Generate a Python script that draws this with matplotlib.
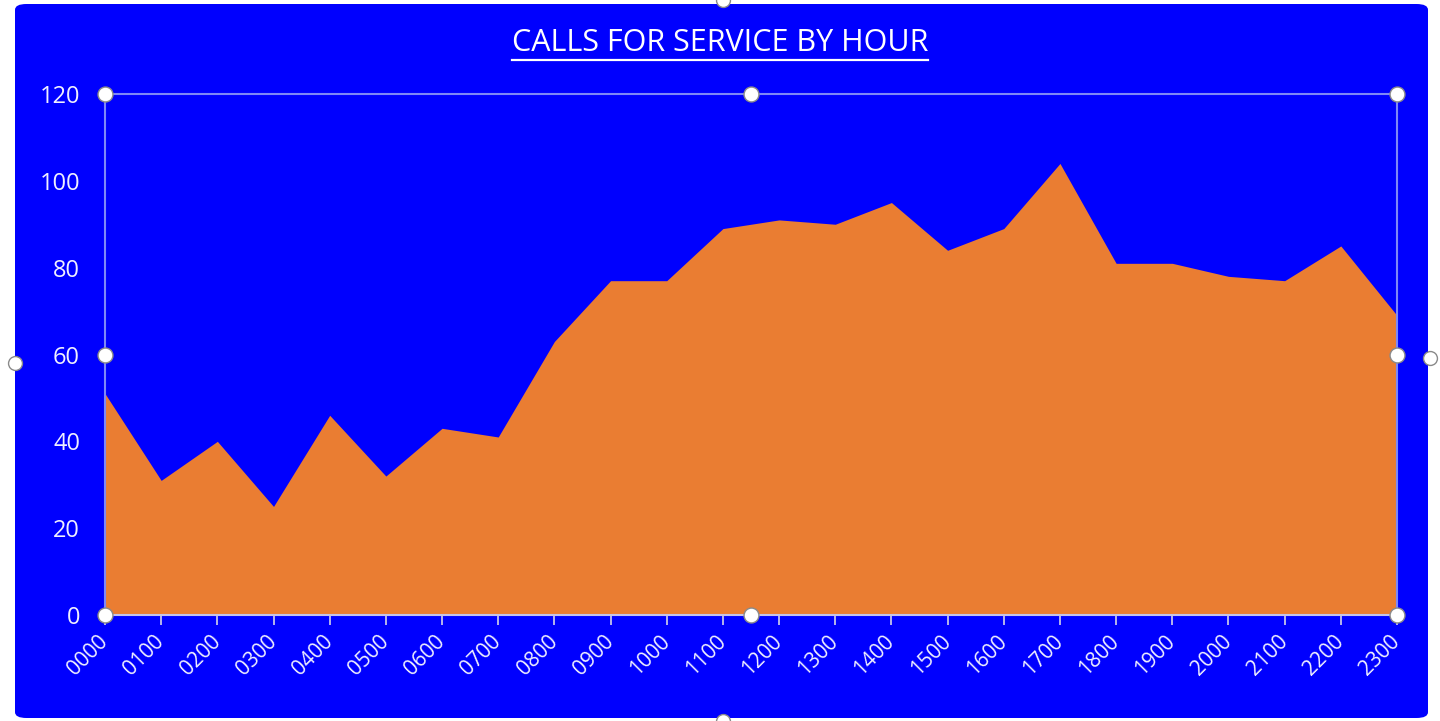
import matplotlib.pyplot as plt
import numpy as np
from matplotlib.patches import FancyBboxPatch

hours = ['0000', '0100', '0200', '0300', '0400', '0500', '0600', '0700',
         '0800', '0900', '1000', '1100', '1200', '1300', '1400', '1500',
         '1600', '1700', '1800', '1900', '2000', '2100', '2200', '2300']
calls = [51, 31, 40, 25, 46, 32, 43, 41, 63, 77, 77, 89,
         91, 90, 95, 84, 89, 104, 81, 81, 78, 77, 85, 69]

plt.rcParams['font.family'] = ['Open Sans', 'DejaVu Sans']

blue = '#0000fe'
orange = '#ea7d32'
frame = '#7f88f6'
txt = '#f0f0ff'

fig = plt.figure(figsize=(14.4, 7.21), dpi=100, facecolor='white')
# blue chart background (rounded box like the screenshot)
bg = FancyBboxPatch((15 / 1440, 3 / 721), 1413 / 1440, 714 / 721,
                    boxstyle='round,pad=0,rounding_size=0.008',
                    transform=fig.transFigure, facecolor=blue,
                    edgecolor='none', zorder=-10)
fig.patches.append(bg)

ax = fig.add_axes([105 / 1440, 1 - 615 / 721, 1292 / 1440, 521 / 721])
ax.set_zorder(1)
ax.set_facecolor(blue)
x = np.arange(len(hours))
ax.fill_between(x, calls, 0, color=orange, linewidth=0, zorder=2)

ax.set_xlim(0, len(hours) - 1)
ax.set_ylim(0, 120)
ax.set_yticks(range(0, 121, 20))
ax.set_xticks(x)
ax.set_xticklabels(hours, rotation=45, ha='right', va='center',
                   rotation_mode='anchor')
ax.tick_params(axis='x', colors=txt, labelsize=15, length=7,
               width=1.3, direction='out', pad=10, color='#c4c4ea')
ax.tick_params(axis='y', colors=txt, labelsize=17, length=0, pad=18)
for s in ax.spines.values():
    s.set_color(frame)
    s.set_linewidth(1.5)
ax.spines['bottom'].set_color('#c4c4ea')
ax.spines['bottom'].set_zorder(3)

title = fig.text(0.5, 1 - 43 / 721, 'CALLS FOR SERVICE BY HOUR', color='white',
                 fontsize=22, ha='center', va='center')
# underline for the title
fig.canvas.draw()
bb = title.get_window_extent().transformed(fig.transFigure.inverted())
fig.add_artist(plt.Line2D([bb.x0, bb.x1], [bb.y0 - 0.003, bb.y0 - 0.003],
                          color='white', linewidth=1.6,
                          transform=fig.transFigure))

# selection handles on the plot area
hx = [0, 0.5, 1, 0, 1, 0, 0.5, 1]
hy = [1, 1, 1, 0.5, 0.5, 0, 0, 0]
ax.scatter(hx, hy, s=115, facecolor='white', edgecolor='#8a8a8a',
           linewidth=1, transform=ax.transAxes, clip_on=False, zorder=5)
# selection handles on the chart border (cut by the image edge)
fx = [723 / 1440, 15 / 1440, 1430 / 1440, 723 / 1440]
fy = [1.0, 1 - 363 / 721, 1 - 358 / 721, 0.0]
fig.add_artist(plt.Line2D(fx, fy, linestyle='none', marker='o', markersize=10,
                          markerfacecolor='white', markeredgecolor='#8a8a8a',
                          transform=fig.transFigure, zorder=6))

fig.savefig('out.png', dpi=100, facecolor='white')
